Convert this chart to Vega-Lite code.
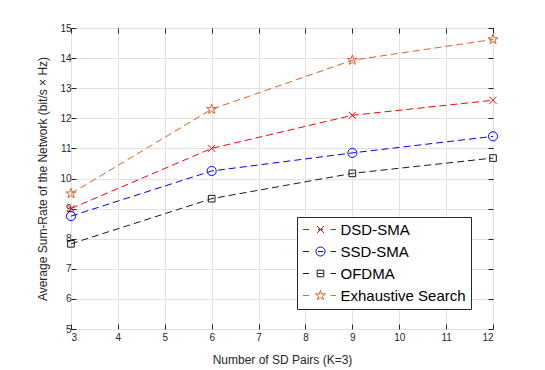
{
  "$schema": "https://vega.github.io/schema/vega-lite/v6.json",
  "autosize": {"type": "none"},
  "width": 422,
  "height": 301,
  "padding": {"left": 71, "top": 28, "right": 52, "bottom": 41},
  "background": "white",
  "config": {
    "font": "Liberation Sans",
    "view": {"stroke": "#262626", "strokeWidth": 1},
    "axis": {
      "domain": false,
      "grid": true,
      "gridColor": "#e2e2e2",
      "gridWidth": 1,
      "tickColor": "#262626",
      "tickSize": -5,
      "tickWidth": 1,
      "labelColor": "#262626",
      "labelFont": "Liberation Sans",
      "labelFontSize": 10,
      "titleColor": "#262626",
      "titleFont": "Liberation Sans",
      "titleFontSize": 12,
      "titleFontWeight": "normal"
    }
  },
  "data": {
    "values": [
      {"pairs": 3, "rate": 9.0, "series": "DSD-SMA"},
      {"pairs": 6, "rate": 11.0, "series": "DSD-SMA"},
      {"pairs": 9, "rate": 12.1, "series": "DSD-SMA"},
      {"pairs": 12, "rate": 12.6, "series": "DSD-SMA"},
      {"pairs": 3, "rate": 8.75, "series": "SSD-SMA"},
      {"pairs": 6, "rate": 10.25, "series": "SSD-SMA"},
      {"pairs": 9, "rate": 10.85, "series": "SSD-SMA"},
      {"pairs": 12, "rate": 11.4, "series": "SSD-SMA"},
      {"pairs": 3, "rate": 7.83, "series": "OFDMA"},
      {"pairs": 6, "rate": 9.33, "series": "OFDMA"},
      {"pairs": 9, "rate": 10.17, "series": "OFDMA"},
      {"pairs": 12, "rate": 10.68, "series": "OFDMA"},
      {"pairs": 3, "rate": 9.5, "series": "Exhaustive Search"},
      {"pairs": 6, "rate": 12.3, "series": "Exhaustive Search"},
      {"pairs": 9, "rate": 13.93, "series": "Exhaustive Search"},
      {"pairs": 12, "rate": 14.62, "series": "Exhaustive Search"}
    ]
  },
  "resolve": {"axis": {"x": "independent", "y": "independent"}},
  "layer": [
    {
      "mark": {"type": "line", "strokeDash": [7, 4], "strokeWidth": 1},
      "encoding": {
        "x": {
          "field": "pairs", "type": "quantitative",
          "scale": {"domain": [3, 12], "nice": false},
          "axis": {"title": "Number of SD Pairs (K=3)", "values": [3,4,5,6,7,8,9,10,11,12], "labelPadding": 8, "titlePadding": 12}
        },
        "y": {
          "field": "rate", "type": "quantitative",
          "scale": {"domain": [5, 15], "nice": false, "zero": false},
          "axis": {"title": "Average Sum-Rate of the Network (bit/s × Hz)", "values": [5,6,7,8,9,10,11,12,13,14,15], "labelPadding": 5, "titlePadding": 10}
        },
        "color": {
          "field": "series", "type": "nominal",
          "scale": {"domain": ["DSD-SMA", "SSD-SMA", "OFDMA", "Exhaustive Search"], "range": ["#ff0000", "#0000ff", "#1a1a1a", "#dd6128"]},
          "legend": {
            "orient": "none",
            "legendX": 226,
            "legendY": 189,
            "title": null,
            "fillColor": "white",
            "strokeColor": "#262626",
            "cornerRadius": 0,
            "padding": 5,
            "labelFont": "Liberation Sans",
            "labelFontSize": 15,
            "labelColor": "#000000",
            "symbolSize": 49,
            "symbolStrokeWidth": 1,
            "symbolOffset": 11,
            "labelOffset": 12.5,
            "rowPadding": 6,
            "encode": {
              "symbols": {
                "update": {
                  "shape": {"signal": "datum.value === 'DSD-SMA' ? 'M-5,0H-3.3M-0.71,0H0.71M2.9,0H4.4M-1,-1L1,1M-1,1L1,-1' : datum.value === 'SSD-SMA' ? 'M-5,0H-3.3M-0.71,0H0.71M2.9,0H4.4M-1.3,0A1.3,1.3 0 1,0 1.3,0A1.3,1.3 0 1,0 -1.3,0' : datum.value === 'OFDMA' ? 'M-5,0H-3.3M-0.71,0H0.71M2.9,0H4.4M-0.95,-0.95H0.95V0.95H-0.95Z' : 'M-5,0H-3.3M2.9,0H4.4M0,-1.5L0.337,-0.464L1.427,-0.464L0.545,0.177L0.882,1.214L0,0.573L-0.882,1.214L-0.545,0.177L-1.427,-0.464L-0.337,-0.464Z'"},
                  "fill": {"value": "transparent"},
                  "size": {"value": 49},
                  "strokeWidth": {"value": 1},
                  "strokeDash": {"value": []},
                  "opacity": {"value": 1}
                }
              }
            }
          }
        }
      }
    },
    {
      "transform": [{"filter": "datum.series === 'DSD-SMA'"}],
      "mark": {"type": "point", "filled": false, "size": 49, "strokeWidth": 1, "opacity": 1, "shape": "M-1,-1L1,1M-1,1L1,-1"},
      "encoding": {
        "x": {"field": "pairs", "type": "quantitative", "axis": {"orient": "top", "labels": false, "grid": false, "title": null, "values": [3,4,5,6,7,8,9,10,11,12]}},
        "y": {"field": "rate", "type": "quantitative", "axis": {"orient": "right", "labels": false, "grid": false, "title": null, "values": [5,6,7,8,9,10,11,12,13,14,15]}},
        "color": {"field": "series", "type": "nominal"}
      }
    },
    {
      "transform": [{"filter": "datum.series === 'SSD-SMA'"}],
      "mark": {"type": "point", "filled": false, "size": 49, "strokeWidth": 1, "opacity": 1, "shape": "M-1.3,0A1.3,1.3 0 1,0 1.3,0A1.3,1.3 0 1,0 -1.3,0"},
      "encoding": {
        "x": {"field": "pairs", "type": "quantitative", "axis": null},
        "y": {"field": "rate", "type": "quantitative", "axis": null},
        "color": {"field": "series", "type": "nominal"}
      }
    },
    {
      "transform": [{"filter": "datum.series === 'OFDMA'"}],
      "mark": {"type": "point", "filled": false, "size": 49, "strokeWidth": 1, "opacity": 1, "shape": "M-0.95,-0.95H0.95V0.95H-0.95Z"},
      "encoding": {
        "x": {"field": "pairs", "type": "quantitative", "axis": null},
        "y": {"field": "rate", "type": "quantitative", "axis": null},
        "color": {"field": "series", "type": "nominal"}
      }
    },
    {
      "transform": [{"filter": "datum.series === 'Exhaustive Search'"}],
      "mark": {"type": "point", "filled": false, "size": 49, "strokeWidth": 1, "opacity": 1, "shape": "M0,-1.5L0.337,-0.464L1.427,-0.464L0.545,0.177L0.882,1.214L0,0.573L-0.882,1.214L-0.545,0.177L-1.427,-0.464L-0.337,-0.464Z"},
      "encoding": {
        "x": {"field": "pairs", "type": "quantitative", "axis": null},
        "y": {"field": "rate", "type": "quantitative", "axis": null},
        "color": {"field": "series", "type": "nominal"}
      }
    }
  ]
}
